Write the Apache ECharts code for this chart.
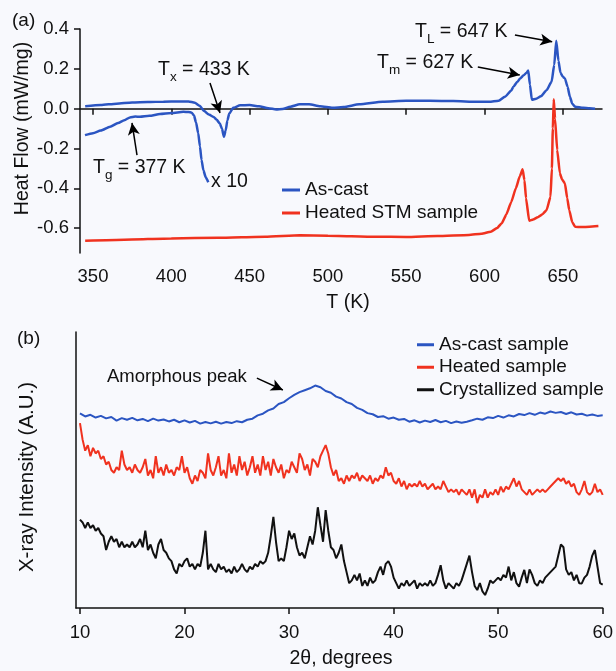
<!DOCTYPE html>
<html>
<head>
<meta charset="utf-8">
<script src="https://cdn.jsdelivr.net/npm/echarts@6/dist/echarts.min.js"></script>
<style>
html,body{margin:0;padding:0;background:#f8f9fd;}
#chart{width:616px;height:671px;}
</style>
</head>
<body>
<div id="chart"></div>
<script>
// ---------- Panel (a): DSC ----------
const dscAsCastT  = [345,355,365,375,385,395,405,411,415,418,421,424,427,429,431,432.3,433.6,434.7,435.8,437,439.5,444,450,456,462,467,471,476,482,488,495,503,510,520,535,550,565,580,595,603,609,613,617,618.4,621,622.7,625,626.8,627.9,629,630.2,633,636,639.6,642.8,644.5,645.8,647.2,648.5,650,651.3,653,654.5,656,657.8,663,667,670.6];
const dscAsCastHF = [0.012,0.018,0.025,0.031,0.033,0.035,0.036,0.036,0.03,0.015,-0.012,-0.03,-0.042,-0.056,-0.075,-0.1,-0.141,-0.11,-0.06,-0.025,0.004,0.017,0.018,0.012,0.002,-0.004,-0.002,0.01,0.022,0.022,0.012,0.004,0.008,0.022,0.035,0.04,0.04,0.038,0.034,0.034,0.04,0.06,0.09,0.11,0.135,0.152,0.168,0.18,0.192,0.12,0.045,0.05,0.062,0.093,0.135,0.22,0.341,0.24,0.18,0.16,0.152,0.11,0.06,0.025,0.01,0.004,0.002,0.0];

const dscX10T  = [344.9,350,355,360.9,366,370,373.6,377,380,386,392.8,400,407.7,411,413,414.5,415.8,417.2,418.3,419.3,420.5,422,423.6];
const dscX10HF = [-0.133,-0.123,-0.11,-0.091,-0.072,-0.058,-0.044,-0.04,-0.041,-0.036,-0.027,-0.022,-0.016,-0.017,-0.02,-0.035,-0.07,-0.124,-0.19,-0.258,-0.31,-0.345,-0.37];

const dscHeatedT  = [345,370,400,430,460,482,500,530,550,570,590,598,604,608,611,614,617,620,622.5,624.3,625.5,626.5,628.5,631,634,637,639.6,642.1,643,643.6,644.2,645,646.4,648.1,649.5,651.3,652.8,654.1,656,657.8,662,667,672.7];
const dscHeatedHF = [-0.663,-0.658,-0.652,-0.648,-0.643,-0.636,-0.638,-0.643,-0.645,-0.64,-0.634,-0.628,-0.618,-0.6,-0.575,-0.53,-0.47,-0.4,-0.34,-0.305,-0.36,-0.45,-0.563,-0.557,-0.545,-0.53,-0.51,-0.443,-0.3,-0.1,0.047,-0.05,-0.208,-0.325,-0.355,-0.375,-0.45,-0.51,-0.57,-0.593,-0.595,-0.593,-0.59];

const dscXTicks = [350,400,450,500,550,600,650];
const dscYTicks = [-0.6,-0.4,-0.2,0.0,0.2,0.4];

// ---------- Panel (b): XRD ----------
const xrdBlueStart = 10, xrdBlueStep = 0.5;
const xrdAsCast = [70.5,69.4,70.0,69.0,69.6,68.7,69.2,67.9,68.8,68.2,68.9,68.0,68.5,67.7,68.6,67.9,68.3,67.6,68.2,67.3,68.0,67.2,67.8,66.8,67.4,66.9,67.5,66.8,67.4,67.0,67.7,67.3,68.2,68.6,69.8,70.4,71.6,72.3,73.9,74.6,76.0,77.2,78.2,78.9,79.6,80.6,80.0,78.6,78.0,76.6,75.9,74.6,73.9,72.5,71.8,70.6,70.2,69.2,69.5,68.6,69.0,68.2,68.5,67.5,68.0,67.2,67.9,67.4,68.1,67.3,67.8,67.0,67.6,67.1,67.5,68.0,68.6,68.2,69.1,68.8,69.6,69.0,69.8,69.4,70.3,69.9,70.6,70.0,70.8,70.4,71.2,70.7,71.0,70.3,70.9,70.1,70.4,69.7,70.1,69.6,69.8];

const xrdStart = 10, xrdStep = 0.25;
const xrdHeated = [
67,61,57,59, 55,58,56,57, 54,55,52,53, 50,49,51,50, 57,52,50,51,
49,52,50,49, 51,54,48,50, 47,55,49,51, 48,52,49,50, 48,51,50,55,
49,51,47,45, 48,46,50,49, 47,56,50,48, 51,55,48,50, 47,56,49,52,
48,55,50,53, 48,51,55,49, 52,48,55,50, 53,48,54,51, 49,52,47,50,
49,53,51,49, 56,54,50,52, 48,54,53,51, 55,57,59,56, 51,48,50,46,
47,45,48,46, 48,47,49,46, 48,47,46,48, 45,47,46,48, 47,51,48,49,
46,45,47,44, 46,43,45,44, 45,44,46,44, 45,43,44,45, 43,44,43,46,
44,42,43,42, 43,41,43,42, 41,43,40,43, 38,41,40,43, 40,42,41,43,
41,44,42,44, 43,45,47,44, 46,43,42,41, 43,41,42,43, 42,43,42,43,
44,45,46,47, 46,47,45,46, 44,45,42,41, 43,46,42,41, 42,45,42,43,
41];
const xrdCrystal = [
32,31,29,31, 29,30,28,29, 27,26,21,24, 26,24,25,22, 24,22,23,22,
24,22,23,25, 22,28,21,23, 20,18,23,25, 21,20,18,17, 14,12.5,16,15,
17,18,15,16, 14,16,15,20, 28,14,16,14, 13,16,14,15, 13,14,12.5,15,
13,14,16,14, 13,15,14,16, 15,17,16,17, 20,26,33,24, 17,18,17,22,
28,25,27,22, 19,20,18,22, 26,23,28,36.5, 30,24,35.5,28, 22,21,18,20,
23,17,13,9, 10,12,10,12.5, 8,10,8,11, 9,10,13,15, 12,16,17,15,
11,9,7,9, 8,10,8,9, 10,7,9,8, 9,8,10,8, 9,12,15.5,10,
7,9,8,7, 9,8,10,13, 16,19,13,8, 6.5,9,6,4.7, 7,10,9,10,
11,10,12,11, 15,10,13,9, 7.7,11,13.8,9, 14,12,9,8, 10,9,11,12,
13,14,15,19, 23,22,14,12, 13,10,12,9, 8.9,11,12,15, 19,21,15,9,
8.5];

const xrdXTicks = [10,20,30,40,50,60];

// ---------- helpers ----------
const FONT = '"Liberation Sans", Arial, Helvetica, sans-serif';
const INK = '#111111';
const BLUE = '#2b55c2';
const RED = '#f0321f';
const BLACK = '#111111';

const pairs = (xs, ys) => xs.map((x, i) => [x, ys[i]]);
const gridPairs = (start, step, ys) => ys.map((y, i) => [+(start + i * step).toFixed(3), y]);

const cv = document.createElement('canvas').getContext('2d');
function tw(text, size) { cv.font = size + 'px ' + FONT; return cv.measureText(text).width; }

function txt(x, y, text, size, opts) {
  opts = opts || {};
  return {
    type: 'text', x: x, y: y, silent: true, rotation: opts.rotation || 0,
    style: {
      text: text, fill: INK, font: size + 'px ' + FONT,
      textAlign: opts.align || 'left', textVerticalAlign: 'middle',
      align: opts.align || 'left', verticalAlign: 'middle'
    }
  };
}
function subLabel(x, y, main, sub, rest) {
  const S = 19.5, s = 13.5;
  const w1 = tw(main, S), w2 = tw(sub, s);
  return [
    txt(x, y, main, S),
    txt(x + w1, y + 7, sub, s),
    txt(x + w1 + w2, y, rest, S)
  ];
}

const arrowLine = (pts) => ({
  silent: true, symbol: ['none', 'arrow'], symbolSize: [9, 12],
  lineStyle: { color: '#000', width: 1.5, type: 'solid' },
  itemStyle: { color: '#000' },
  label: { show: false }, emphasis: { disabled: true }, animation: false,
  data: pts.map(p => [{ coord: p[0] }, { coord: p[1] }])
});

const axisCommon = {
  axisLine: { show: true, lineStyle: { color: INK, width: 1.5 } },
  splitLine: { show: false }
};

const chart = echarts.init(document.getElementById('chart'), null, { renderer: 'canvas' });

const option = {
  backgroundColor: '#f8f9fd',
  animation: false,
  textStyle: { fontFamily: FONT },
  grid: [
    { left: 80, top: 29, width: 522, height: 224 },
    { left: 76, top: 332, width: 527, height: 276 }
  ],
  xAxis: [
    Object.assign({}, axisCommon, {
      type: 'value', gridIndex: 0, min: 341.7, max: 675,
      axisTick: { show: true, inside: false, length: 6, lineStyle: { color: INK, width: 1.5 }, customValues: dscXTicks },
      axisLabel: { show: true, customValues: dscXTicks, fontSize: 18.5, color: INK, margin: 14, fontFamily: FONT }
    }),
    Object.assign({}, axisCommon, {
      type: 'value', gridIndex: 1, min: 9.62, max: 60,
      axisTick: { show: true, inside: false, length: 6, lineStyle: { color: INK, width: 1.5 }, customValues: xrdXTicks },
      axisLabel: { show: true, customValues: xrdXTicks, fontSize: 18.5, color: INK, margin: 15, fontFamily: FONT }
    })
  ],
  yAxis: [
    Object.assign({}, axisCommon, {
      type: 'value', gridIndex: 0, min: -0.725, max: 0.4,
      axisTick: { show: true, inside: false, length: 6, lineStyle: { color: INK, width: 1.5 }, customValues: dscYTicks },
      axisLabel: { show: true, customValues: dscYTicks, fontSize: 18.5, color: INK, margin: 11, fontFamily: FONT,
        formatter: v => (Math.abs(v) < 1e-9 ? 0 : v).toFixed(1) }
    }),
    Object.assign({}, axisCommon, {
      type: 'value', gridIndex: 1, min: 0, max: 100,
      axisTick: { show: false }, axisLabel: { show: false }
    })
  ],
  legend: [
    { data: ['As-cast', 'Heated STM sample'], orient: 'vertical', left: 282, top: 178.5,
      padding: 0, itemGap: 0, itemWidth: 18, itemHeight: 3, icon: 'rect', selectedMode: false,
      textStyle: { fontSize: 19, lineHeight: 23, color: INK, fontFamily: FONT } },
    { data: ['As-cast sample', 'Heated sample', 'Crystallized sample'], orient: 'vertical', left: 417, top: 333.5,
      padding: 0, itemGap: 0, itemWidth: 17, itemHeight: 3, icon: 'rect', selectedMode: false,
      textStyle: { fontSize: 19, lineHeight: 22.5, color: INK, fontFamily: FONT } }
  ],
  series: [
    { name: 'As-cast', type: 'line', xAxisIndex: 0, yAxisIndex: 0, data: pairs(dscAsCastT, dscAsCastHF),
      showSymbol: false, smooth: 0.2, smoothMonotone: 'x', lineStyle: { color: BLUE, width: 2.5 }, itemStyle: { color: BLUE },
      markLine: arrowLine([
        [[619.4, 0.37], [643.2, 0.336]],
        [[595.7, 0.209], [622.5, 0.169]],
        [[424.7, 0.129], [431.1, -0.022]]
      ]) },
    { name: 'As-cast x10', type: 'line', xAxisIndex: 0, yAxisIndex: 0, data: pairs(dscX10T, dscX10HF),
      showSymbol: false, smooth: 0.2, smoothMonotone: 'x', lineStyle: { color: BLUE, width: 2.5 }, itemStyle: { color: BLUE },
      markLine: arrowLine([
        [[378.1, -0.233], [374.9, -0.072]]
      ]) },
    { name: 'Heated STM sample', type: 'line', xAxisIndex: 0, yAxisIndex: 0, data: pairs(dscHeatedT, dscHeatedHF),
      showSymbol: false, smooth: 0.15, smoothMonotone: 'x', lineStyle: { color: RED, width: 2.5 }, itemStyle: { color: RED } },

    { name: 'As-cast sample', type: 'line', xAxisIndex: 1, yAxisIndex: 1, data: gridPairs(xrdBlueStart, xrdBlueStep, xrdAsCast),
      showSymbol: false, lineStyle: { color: BLUE, width: 2 }, itemStyle: { color: BLUE },
      markLine: arrowLine([
        [[26.92, 83.3], [29.41, 79]]
      ]) },
    { name: 'Heated sample', type: 'line', xAxisIndex: 1, yAxisIndex: 1, data: gridPairs(xrdStart, xrdStep, xrdHeated),
      showSymbol: false, lineStyle: { color: RED, width: 2 }, itemStyle: { color: RED } },
    { name: 'Crystallized sample', type: 'line', xAxisIndex: 1, yAxisIndex: 1, data: gridPairs(xrdStart, xrdStep, xrdCrystal),
      showSymbol: false, lineStyle: { color: BLACK, width: 2 }, itemStyle: { color: BLACK } }
  ],
  graphic: [].concat(
    [
      txt(12, 21, '(a)', 19),
      txt(17, 339, '(b)', 19),
      txt(22.5, 128.5, 'Heat Flow (mW/mg)', 19.5, { align: 'center', rotation: Math.PI / 2 }),
      txt(27, 477, 'X-ray Intensity (A.U.)', 20.5, { align: 'center', rotation: Math.PI / 2 }),
      txt(348, 303, 'T (K)', 19.5, { align: 'center' }),
      txt(341, 659, '2θ, degrees', 19.5, { align: 'center' }),
      txt(211, 182, 'x 10', 19.5),
      txt(107, 377, 'Amorphous peak', 18.5)
    ],
    subLabel(158, 70, 'T', 'x', ' = 433 K'),
    subLabel(93, 168, 'T', 'g', ' = 377 K'),
    subLabel(377, 63, 'T', 'm', ' = 627 K'),
    subLabel(415, 32, 'T', 'L', ' = 647 K')
  )
};
chart.setOption(option);
</script>
</body>
</html>
